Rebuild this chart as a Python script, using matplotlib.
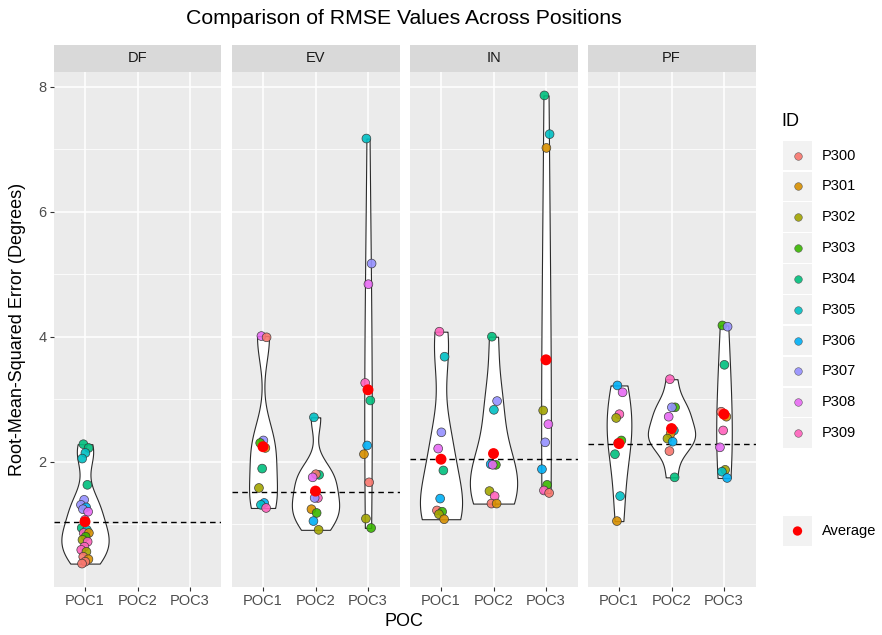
import numpy as np
import matplotlib
matplotlib.use("Agg")
import matplotlib.pyplot as plt
from matplotlib.patches import Rectangle

plt.rcParams['font.family'] = ['Liberation Sans', 'DejaVu Sans']

# ---------------- data ----------------
POSITIONS = ["DF", "EV", "IN", "PF"]
POCS = ["POC1", "POC2", "POC3"]
ID_LEVELS = ["P300", "P301", "P302", "P303", "P304",
             "P305", "P306", "P307", "P308", "P309"]
ID_COLORS = ["#F8766D", "#D89000", "#A3A500", "#39B600", "#00BF7D",
             "#00BFC4", "#00B0F6", "#9590FF", "#E76BF3", "#FF62BC"]

DF_POC1_IDS = ["P304", "P304", "P305", "P305", "P304", "P307", "P307", "P306",
               "P307", "P308", "P308", "P304", "P305", "P309", "P301", "P303",
               "P302", "P309", "P309", "P309", "P302", "P300", "P301", "P300", "P300"]
DF_POC1_RMSE = [2.28, 2.22, 2.14, 2.05, 1.63, 1.39, 1.31, 1.27,
                1.24, 1.20, 1.07, 0.94, 0.91, 0.86, 0.86, 0.80,
                0.75, 0.72, 0.64, 0.59, 0.56, 0.48, 0.44, 0.40, 0.37]

EV_POC1_IDS = ["P308", "P300", "P307", "P303", "P301", "P304", "P302", "P306", "P305", "P309"]
EV_POC1_RMSE = [4.01, 3.99, 2.34, 2.30, 2.22, 1.89, 1.58, 1.34, 1.31, 1.26]
EV_POC2_IDS = ["P305", "P304", "P300", "P308", "P309", "P307", "P301", "P303", "P306", "P302"]
EV_POC2_RMSE = [2.71, 1.79, 1.80, 1.75, 1.42, 1.42, 1.24, 1.18, 1.05, 0.91]
EV_POC3_IDS = ["P305", "P307", "P308", "P309", "P304", "P306", "P301", "P300", "P302", "P303"]
EV_POC3_RMSE = [7.17, 5.17, 4.84, 3.26, 2.98, 2.26, 2.12, 1.67, 1.09, 0.94]

IN_POC1_IDS = ["P309", "P305", "P307", "P308", "P304", "P306", "P300", "P303", "P302", "P301"]
IN_POC1_RMSE = [4.08, 3.68, 2.47, 2.21, 1.86, 1.41, 1.22, 1.20, 1.16, 1.08]
IN_POC2_IDS = ["P304", "P307", "P305", "P306", "P303", "P308", "P302", "P309", "P300", "P301"]
IN_POC2_RMSE = [4.00, 2.97, 2.83, 1.96, 1.95, 1.95, 1.53, 1.45, 1.33, 1.33]
IN_POC3_IDS = ["P304", "P305", "P301", "P302", "P308", "P307", "P306", "P303", "P309", "P300"]
IN_POC3_RMSE = [7.86, 7.24, 7.02, 2.82, 2.60, 2.31, 1.88, 1.63, 1.54, 1.50]

PF_POC1_IDS = ["P306", "P308", "P309", "P302", "P303", "P300", "P304", "P305", "P301"]
PF_POC1_RMSE = [3.22, 3.11, 2.76, 2.70, 2.34, 2.30, 2.12, 1.45, 1.05]
PF_POC2_IDS = ["P309", "P303", "P307", "P308", "P305", "P301", "P302", "P306", "P300", "P304"]
PF_POC2_RMSE = [3.32, 2.87, 2.87, 2.72, 2.50, 2.45, 2.37, 2.32, 2.17, 1.75]
PF_POC3_IDS = ["P303", "P307", "P304", "P300", "P301", "P309", "P308", "P302", "P305", "P306"]
PF_POC3_RMSE = [4.18, 4.16, 3.55, 2.80, 2.72, 2.50, 2.23, 1.87, 1.84, 1.74]

DF_AVG = [1.04, None, None]
EV_AVG = [2.24, 1.53, 3.15]
IN_AVG = [2.04, 2.13, 3.63]
PF_AVG = [2.29, 2.53, 2.76]
REF_LINE = [1.04, 1.52, 2.04, 2.29]

GROUPS = {
    "DF": [(DF_POC1_IDS, DF_POC1_RMSE), None, None],
    "EV": [(EV_POC1_IDS, EV_POC1_RMSE), (EV_POC2_IDS, EV_POC2_RMSE), (EV_POC3_IDS, EV_POC3_RMSE)],
    "IN": [(IN_POC1_IDS, IN_POC1_RMSE), (IN_POC2_IDS, IN_POC2_RMSE), (IN_POC3_IDS, IN_POC3_RMSE)],
    "PF": [(PF_POC1_IDS, PF_POC1_RMSE), (PF_POC2_IDS, PF_POC2_RMSE), (PF_POC3_IDS, PF_POC3_RMSE)],
}
AVGS = {"DF": DF_AVG, "EV": EV_AVG, "IN": IN_AVG, "PF": PF_AVG}
COLOR_OF = dict(zip(ID_LEVELS, ID_COLORS))

# violin bandwidth adjustment (style)
BW_ADJUST = {"DF": [1.0, 1.0, 1.0], "EV": [1.0, 1.0, 2.2],
             "IN": [1.0, 1.0, 2.0], "PF": [1.8, 1.0, 1.8]}


# ---------------- helpers ----------------
def bw_nrd0(x):
    x = np.asarray(x, float)
    sd = x.std(ddof=1)
    q75, q25 = np.percentile(x, [75, 25])
    lo = min(sd, (q75 - q25) / 1.34)
    if lo <= 0:
        lo = sd if sd > 0 else 1.0
    return 0.9 * lo * len(x) ** -0.2


def kde(x, grid, adjust=1.0):
    x = np.asarray(x, float)
    bw = bw_nrd0(x) * adjust
    z = (grid[:, None] - x[None, :]) / bw
    return np.exp(-0.5 * z ** 2).sum(1) / (len(x) * bw * np.sqrt(2 * np.pi))


def jitter(n, amp=0.08):
    k = np.arange(n)
    return amp * (((k * 0.6180339887 + 0.31) % 1.0) * 2 - 1)


# ---------------- layout ----------------
W, H = 882, 635
fig = plt.figure(figsize=(W / 100, H / 100), dpi=100)
fig.patch.set_facecolor("white")

def fx(px):
    return px / W

def fy(py):
    return 1 - py / H

lefts = [53.5, 231.5, 409.5, 587.5]
pw = 168
ptop, pbot, strip_top = 72, 587, 45

all_vals = np.concatenate([np.asarray(g[1]) for p in POSITIONS for g in GROUPS[p] if g is not None]
                          + [np.array([a for p in POSITIONS for a in AVGS[p] if a is not None])])
vmin, vmax = all_vals.min(), all_vals.max()
pad = 0.05 * (vmax - vmin)
ylim = (vmin - pad, vmax + pad)

for k, pos in enumerate(POSITIONS):
    ax = fig.add_axes([fx(lefts[k]), fy(pbot), pw / W, (pbot - ptop) / H])
    ax.set_facecolor("#EBEBEB")
    for s in ax.spines.values():
        s.set_visible(False)
    ax.set_xlim(0.4, 3.6)
    ax.set_ylim(*ylim)
    ax.set_yticks([2, 4, 6, 8])
    ax.set_yticks([1, 3, 5, 7], minor=True)
    ax.set_xticks([1, 2, 3])
    ax.set_xticklabels(POCS)
    ax.grid(True, which="major", color="white", lw=1.1)
    ax.grid(True, which="minor", axis="y", color="white", lw=0.55)
    ax.set_axisbelow(True)
    ax.tick_params(axis="both", which="major", length=3, width=0.8, color="#333333",
                   labelcolor="#4D4D4D", labelsize=10.5, pad=2)
    ax.tick_params(axis="y", which="minor", length=0)
    if k > 0:
        ax.tick_params(axis="y", labelleft=False, length=0)

    # violins (scale = "area" within panel)
    dens = []
    for i, g in enumerate(GROUPS[pos]):
        if g is None:
            dens.append(None)
            continue
        vals = np.asarray(g[1], float)
        grid = np.linspace(vals.min(), vals.max(), 512)
        dens.append((grid, kde(vals, grid, BW_ADJUST[pos][i])))
    dmax = max(d[1].max() for d in dens if d is not None)
    for i, d in enumerate(dens):
        if d is None:
            continue
        grid, de = d
        w = 0.45 * de / dmax
        ax.fill_betweenx(grid, i + 1 - w, i + 1 + w, facecolor="white",
                         edgecolor="#2B2B2B", lw=0.8, zorder=2)

    # reference line
    ax.axhline(REF_LINE[k], color="black", ls=(0, (4, 3)), lw=1.0, zorder=3)

    # points
    for i, g in enumerate(GROUPS[pos]):
        if g is None:
            continue
        ids, vals = g
        xs = i + 1 + jitter(len(vals))
        ax.scatter(xs, vals, s=40, c=[COLOR_OF[t] for t in ids], edgecolors="#333333",
                   linewidths=0.5, alpha=0.9, zorder=4)
    for i, a in enumerate(AVGS[pos]):
        if a is None:
            continue
        ax.scatter([i + 1], [a], s=62, c="#FF0000", edgecolors="none", zorder=5)

    # strip
    sax = fig.add_axes([fx(lefts[k]), fy(ptop), pw / W, (ptop - strip_top) / H])
    sax.set_facecolor("#D9D9D9")
    sax.set_xticks([]); sax.set_yticks([])
    for s in sax.spines.values():
        s.set_visible(False)
    sax.text(0.5, 0.5, pos, ha="center", va="center", fontsize=10.5, color="#1A1A1A",
             transform=sax.transAxes)

# titles
fig.text(fx(404), fy(18), "Comparison of RMSE Values Across Positions", ha="center",
         va="center", fontsize=15.3, color="black")
fig.text(fx(18), fy(329), "Root-Mean-Squared Error (Degrees)", ha="center", va="center",
         rotation=90, fontsize=13, color="black")
fig.text(fx(404), fy(621), "POC", ha="center", va="center", fontsize=13, color="black")

# legend
lax = fig.add_axes([0, 0, 1, 1], zorder=-1)
lax.set_xlim(0, W); lax.set_ylim(H, 0); lax.axis("off")
lax.text(781, 121, "ID", ha="left", va="center", fontsize=13, color="black")
row0, dy = 155.5, 30.85
for j, (lab, col) in enumerate(zip(ID_LEVELS, ID_COLORS)):
    yc = row0 + j * dy
    lax.add_patch(Rectangle((783, yc - dy / 2 + 0.7), 29, dy - 1.4, facecolor="#F2F2F2",
                            edgecolor="none"))
    lax.scatter([797.5], [yc], s=30, c=col, edgecolors="#555555", linewidths=0.4, alpha=0.9)
    lax.text(822, yc, lab, ha="left", va="center", fontsize=10.5, color="black")
ya = 531
lax.add_patch(Rectangle((783, ya - dy / 2 + 0.7), 29, dy - 1.4, facecolor="#F2F2F2",
                        edgecolor="none"))
lax.scatter([797.5], [ya], s=45, c="#FF0000", edgecolors="none")
lax.text(822, ya, "Average", ha="left", va="center", fontsize=10.5, color="black")

fig.savefig("out.png", dpi=100, facecolor="white")
